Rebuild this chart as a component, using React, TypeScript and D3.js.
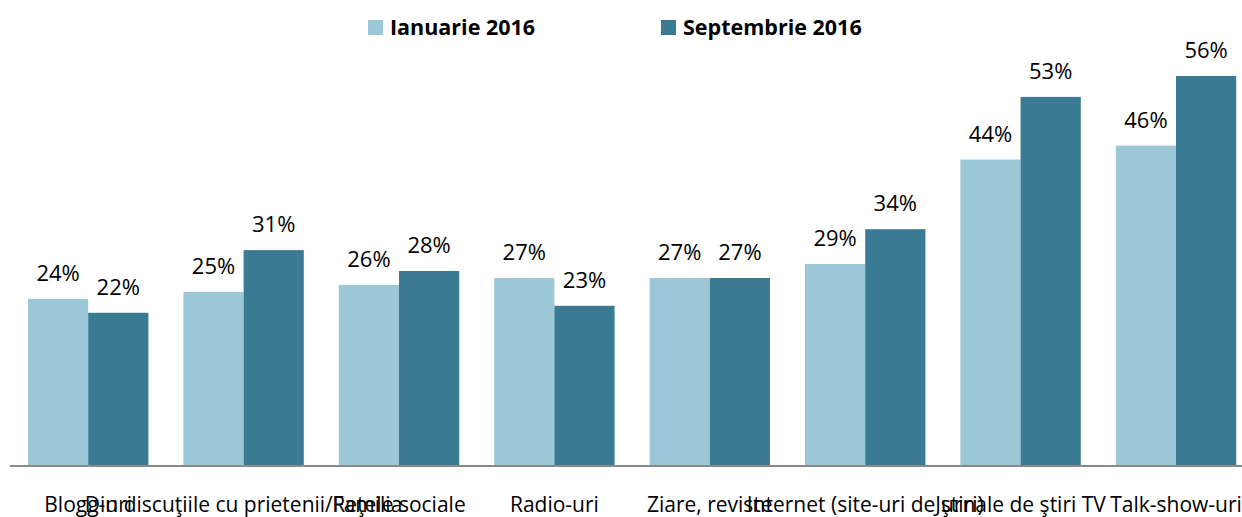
import React from "react";
import * as d3 from "d3";

const categories = [
  "Blogg-uri",
  "Din discuţiile cu prietenii/Familia",
  "Reţele sociale",
  "Radio-uri",
  "Ziare, reviste",
  "Internet (site-uri de ştiri)",
  "Jurnale de ştiri TV",
  "Talk-show-uri",
];
const seriesNames = ["Ianuarie 2016", "Septembrie 2016"];
const ianuarie = [24, 25, 26, 27, 27, 29, 44, 46];
const septembrie = [22, 31, 28, 23, 27, 34, 53, 56];
const colors = ["#9BC7D7", "#3A7A92"];

const W = 1242;
const H = 517;

export default function App() {
  const x = d3
    .scaleBand<string>()
    .domain(categories)
    .range([10.5, 10.5 + 155.4 * categories.length])
    .paddingInner(35 / 155.4)
    .paddingOuter(17.5 / 155.4);
  const y = d3.scaleLinear().domain([0, 56]).range([466, 76]);
  const inner = d3
    .scaleBand<number>()
    .domain([0, 1])
    .range([0, x.bandwidth()]);
  const series = [ianuarie, septembrie];
  const font = "'Open Sans', 'Noto Sans', sans-serif";

  return (
    <svg
      width={W}
      height={H}
      style={{ position: "absolute", left: 0, top: 0, background: "#fff" }}
    >
      {series.map((vals, si) =>
        vals.map((v, i) => {
          const bx = (x(categories[i]) as number) + (inner(si) as number);
          return (
            <g key={`${si}-${i}`}>
              <rect
                x={bx}
                y={y(v)}
                width={inner.bandwidth()}
                height={y(0) - y(v)}
                fill={colors[si]}
              />
              <text
                x={bx + inner.bandwidth() / 2}
                y={y(v) - 18}
                textAnchor="middle"
                fontFamily={font}
                fontSize={22}
                fill="#000"
              >
                {v}%
              </text>
            </g>
          );
        })
      )}
      <line x1={10} x2={W} y1={466} y2={466} stroke="#898989" strokeWidth={2} />
      {categories.map((c) => (
        <text
          key={c}
          x={(x(c) as number) + x.bandwidth() / 2}
          y={512}
          textAnchor="middle"
          fontFamily={font}
          fontSize={21}
          fill="#000"
        >
          {c}
        </text>
      ))}
      {seriesNames.map((s, i) => {
        const lx = [368, 661][i];
        return (
          <g key={s}>
            <rect x={lx} y={20} width={15} height={15} fill={colors[i]} />
            <text
              x={lx + 22}
              y={35}
              fontFamily={font}
              fontWeight="bold"
              fontSize={21.5}
              fill="#000"
            >
              {s}
            </text>
          </g>
        );
      })}
    </svg>
  );
}
